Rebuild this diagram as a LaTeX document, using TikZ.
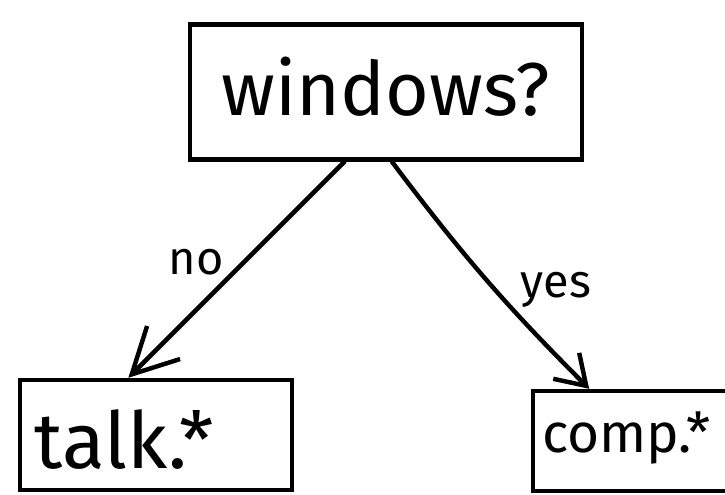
\documentclass[tikz,border=0pt]{standalone}
\usepackage{fontspec}
\setmainfont{Fira Sans}
\usetikzlibrary{arrows.meta, calc}

\begin{document}
\begin{tikzpicture}[
    x=0.03cm, y=-0.03cm,
    box/.style={rectangle, draw=black, line width=3.8pt, inner sep=0pt},
    branch/.style={draw=black, line width=3.8pt, line cap=round},
    lbl/.style={font=\fontsize{40}{40}\selectfont}
]
\useasboundingbox (0,0) rectangle (725,494);

\node[box, minimum width=11.76cm, minimum height=4.05cm,
      text height=2.0cm, text depth=0.62cm,
      font=\fontsize{64}{64}\selectfont] (win) at (386,92) {windows?};
\node[box, minimum width=8.16cm, minimum height=3.3cm,
      inner xsep=0.45cm, text width=7.26cm, align=left,
      text height=2.4cm, text depth=0.42cm,
      font=\fontsize{67}{67}\selectfont] (talk) at (156,435) {talk.*};
\node[box, minimum width=6.6cm, minimum height=3.0cm,
      inner xsep=0.27cm, text width=6.06cm, align=left,
      text height=1.5cm, text depth=0.84cm,
      font=\fontsize{47}{47}\selectfont] (comp) at (643,441) {comp.*};

%% no branch
\draw[branch, -{Straight Barb[length=1.35cm, width=1.4cm]}]
    ($(win.south west)!0.395!(win.south east)$) -- ($(talk.north west)!0.4!(talk.north east)$);
\node[lbl] (no) at (196,262) {no};

%% yes branch
\draw[branch, -{Straight Barb[length=0.85cm, width=1.1cm]}]
    ($(win.south west)!0.515!(win.south east)$) to[bend right=4] ($(comp.north west)!0.26!(comp.north east)$);
\node[lbl] (yes) at (556,290) {yes};

\end{tikzpicture}
\end{document}
